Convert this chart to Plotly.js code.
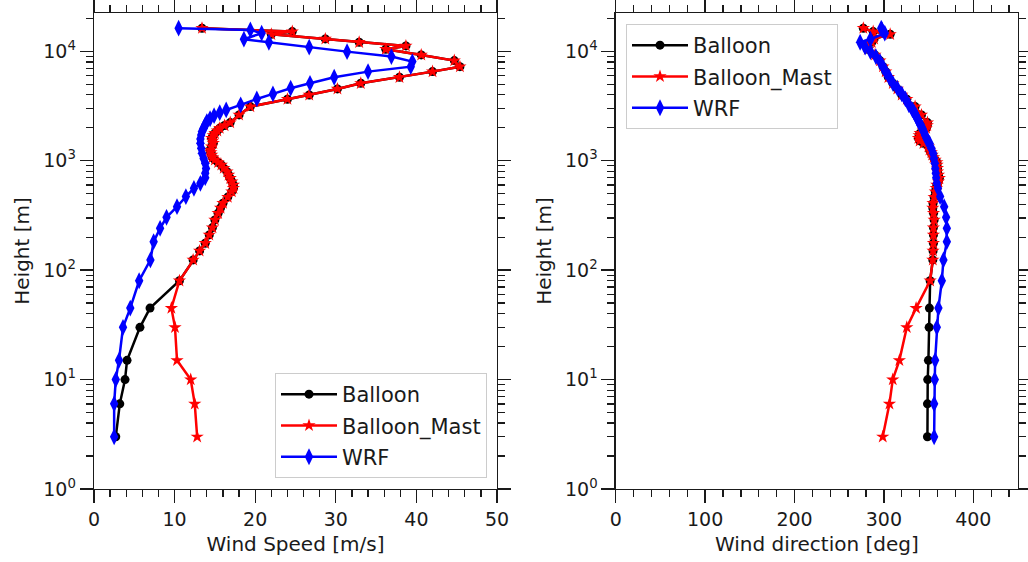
<!DOCTYPE html>
<html><head><meta charset="utf-8">
<script src="https://cdn.plot.ly/plotly-3.0.1.min.js"></script>
<style>html,body{margin:0;padding:0;background:#fff}#chart{width:1028px;height:562px}</style>
</head><body><div id="chart"></div>
<script>
// ---- data ----
const balloonHeight = [3, 6, 10, 15, 30, 45, 80, 124, 150, 176, 210, 245, 288, 331, 370, 409, 465,
  522, 560, 601, 645, 692, 740, 795, 855, 916, 965, 1017, 1070, 1130, 1190, 1255, 1345, 1445, 1520, 1606, 1700,
  1784, 1880, 1982, 2100, 2230, 2623, 3124, 3650, 3990, 4530, 5100, 5790, 6520, 7240, 8220, 9270, 10450, 11200,
  12100, 12980, 14300, 15140, 16260];
const balloonSpeed = [2.7, 3.2, 3.85, 4.1, 5.7, 6.95, 10.6, 12.3, 13.1, 13.8, 14.3, 14.7, 15.0, 15.4, 15.7, 16.0, 16.6,
  17.1, 17.3, 17.3, 17.1, 16.9, 16.7, 16.5, 16.1, 15.8, 15.4, 15.0, 14.7, 14.6, 14.5, 14.4, 14.6, 14.8, 14.7, 14.6, 14.8,
  15.0, 15.3, 15.6, 16.2, 16.9, 18.0, 19.4, 24.0, 26.7, 30.2, 33.1, 37.9, 42.0, 45.4, 44.7, 40.6, 36.2, 38.7,
  32.9, 28.7, 22.0, 24.6, 13.4];
const balloonDir = [348.7, 348.7, 349, 349.8, 350.6, 350.9, 351.7, 354.7, 355, 355.4, 355.4, 355.4, 356.2, 355.5, 354.7, 355, 356.2,
  357.5, 358.5, 359.2, 361, 362, 361, 360, 359.9, 359.5, 359.2, 357.3, 355.5, 354, 353, 351, 349.8, 344.2, 340, 338.6, 339.5,
  340.5, 344, 347.2, 348.5, 348.7, 342, 334.9, 325.6, 320, 315, 310, 305, 302, 299, 295.5, 290, 282, 281,
  286.4, 289, 307, 288, 277];
// mast measurements replace the balloon for the lowest six levels (3–45 m)
const mastSpeedLow = [12.8, 12.5, 12.0, 10.3, 10.05, 9.6];
const mastDirLow = [298.7, 306.2, 309.9, 317.3, 325.6, 336];

const wrfHeight = [3, 6, 10, 15, 30, 45, 80, 124, 182, 241, 304, 380, 470, 560, 622, 700, 769, 850, 948, 1050,
  1170, 1300, 1445, 1580, 1720, 1850, 1980, 2120, 2280, 2420, 2580, 2750, 2910, 3240, 3670, 4080, 4600, 5100, 5790,
  6520, 7240, 8050, 8950, 9930, 10900, 12100, 12900, 14630, 15680, 16260];
const wrfSpeed = [2.5, 2.5, 2.7, 3.1, 3.6, 4.5, 5.6, 7.0, 7.4, 8.2, 9.0, 10.3, 11.4, 12.4, 13.2, 13.8, 13.8, 13.9, 13.8, 13.6,
  13.4, 13.3, 13.2, 13.2, 13.3, 13.4, 13.6, 13.8, 14.0, 14.4, 14.9, 15.6, 16.4, 18.2, 20.2, 22.2, 24.4, 26.8, 29.8,
  34.0, 39.3, 39.5, 36.9, 31.4, 26.7, 21.7, 18.6, 20.8, 19.4, 10.5];
const wrfDir = [356.2, 356.2, 356.9, 357.3, 359.2, 361, 364.8, 366.6, 370.4, 370.4, 369.6, 367.4, 362.9, 360.5, 359.2, 358.5, 358, 357.5, 357, 356,
  355, 353, 351, 348, 346, 344.5, 343, 341, 339, 337.5, 336, 334, 332, 328, 324, 320, 315, 310, 306,
  302, 299, 295.7, 291, 285, 279, 273.4, 285, 301, 298, 297];

const seriesNames = ['Balloon', 'Balloon_Mast', 'WRF'];
const yTickVals = [1, 10, 100, 1000, 10000];
const yTickText = ['10<sup>0</sup>', '10<sup>1</sup>', '10<sup>2</sup>', '10<sup>3</sup>', '10<sup>4</sup>'];

const nLow = mastSpeedLow.length;
const mastSpeed = mastSpeedLow.concat(balloonSpeed.slice(nLow));
const mastDir = mastDirLow.concat(balloonDir.slice(nLow));

// ---- styling ----
const FONT = 'DejaVu Sans, sans-serif';
const TXT = '#1a1a1a';
const styles = [
  {color: '#000000', marker: {symbol: 'circle', size: 9, color: '#000000'}},
  {color: '#ff0000', marker: {symbol: 'star', size: 10, color: '#ff0000'}},
  {color: '#0000ff', marker: {symbol: 'diamond-tall', size: 12, color: '#0000ff'}}
];

function mk(x, y, i, xa, ya, leg) {
  return {
    type: 'scatter', mode: 'lines+markers', x: x, y: y, name: seriesNames[i],
    xaxis: xa, yaxis: ya, legend: leg, legendgroup: leg + i,
    line: {color: styles[i].color, width: 2.5},
    marker: styles[i].marker
  };
}

const traces = [
  mk(balloonSpeed, balloonHeight, 0, 'x', 'y', 'legend'),
  mk(mastSpeed, balloonHeight, 1, 'x', 'y', 'legend'),
  mk(wrfSpeed, wrfHeight, 2, 'x', 'y', 'legend'),
  mk(balloonDir, balloonHeight, 0, 'x2', 'y2', 'legend2'),
  mk(mastDir, balloonHeight, 1, 'x2', 'y2', 'legend2'),
  mk(wrfDir, wrfHeight, 2, 'x2', 'y2', 'legend2')
];

const axCommon = {
  showline: true, linecolor: TXT, linewidth: 1.3, mirror: 'allticks',
  ticks: 'outside', ticklen: 13, tickwidth: 1.3, tickcolor: TXT,
  showgrid: false, zeroline: false, automargin: false,
  tickfont: {family: FONT, size: 19, color: TXT}
};
function xa(range, dtick, mdtick, title, domain, anchor) {
  return Object.assign({}, axCommon, {
    range: range, dtick: dtick, tick0: 0, domain: domain, anchor: anchor,
    minor: {ticks: 'outside', ticklen: 7, tickwidth: 1.3, tickcolor: TXT, dtick: mdtick, tick0: 0, showgrid: false},
    title: {text: title, font: {family: FONT, size: 20, color: TXT}, standoff: 8}
  });
}
function ya(domain, anchor) {
  return Object.assign({}, axCommon, {
    type: 'log', range: [0, 4.35], domain: domain, anchor: anchor,
    tickmode: 'array', tickvals: yTickVals, ticktext: yTickText,
    minor: {ticks: 'outside', ticklen: 7, tickwidth: 1.3, tickcolor: TXT, dtick: 'D1', showgrid: false},
    title: {text: 'Height [m]', font: {family: FONT, size: 20, color: TXT}, standoff: 8}
  });
}
const yDom = [1 - 489 / 562, 1 - 13 / 562];
const legendCommon = {
  bgcolor: 'rgba(255,255,255,0.85)', bordercolor: '#cccccc', borderwidth: 1,
  font: {family: FONT, size: 21, color: TXT}, itemwidth: 56, tracegroupgap: 1
};

const layout = {
  width: 1028, height: 562, paper_bgcolor: '#fff', plot_bgcolor: '#fff',
  margin: {l: 0, r: 0, t: 0, b: 0},
  showlegend: true,
  xaxis: xa([0, 50], 10, 2, 'Wind Speed [m/s]', [94 / 1028, 497 / 1028], 'y'),
  yaxis: ya(yDom, 'x'),
  xaxis2: xa([0, 450], 100, 20, 'Wind direction [deg]', [615.7 / 1028, 1018 / 1028], 'y2'),
  yaxis2: ya(yDom, 'x2'),
  legend: Object.assign({}, legendCommon, {x: 487 / 1028, y: 1 - 478 / 562, xanchor: 'right', yanchor: 'bottom', xref: 'paper', yref: 'paper'}),
  legend2: Object.assign({}, legendCommon, {x: 626 / 1028, y: 1 - 24 / 562, xanchor: 'left', yanchor: 'top', xref: 'paper', yref: 'paper'})
};

Plotly.newPlot('chart', traces, layout, {displayModeBar: false, staticPlot: true});
</script>
</body></html>
